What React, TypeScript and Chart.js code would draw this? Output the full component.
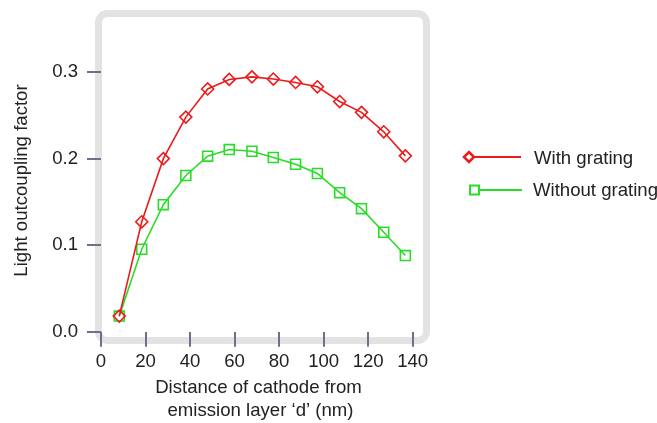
import React, { useEffect, useRef } from 'react';
import { Chart, registerables } from 'chart.js';

Chart.register(...registerables);

const DISTANCE_NM = [8.2, 18.3, 28, 38.1, 47.9, 57.6, 67.8, 77.4, 87.4, 97.2, 107.2, 117, 127, 136.7];
const WITH_GRATING = [0.018, 0.127, 0.2, 0.248, 0.2805, 0.2915, 0.2945, 0.292, 0.288, 0.283, 0.266, 0.2535, 0.231, 0.2032];
const WITHOUT_GRATING = [0.018, 0.0953, 0.1468, 0.1805, 0.2028, 0.2105, 0.2085, 0.2013, 0.1935, 0.1828, 0.1606, 0.1422, 0.1149, 0.088];
const X_TICKS = [0, 20, 40, 60, 80, 100, 120, 140];
const Y_TICKS = [0, 0.1, 0.2, 0.3];
const SERIES_NAMES = ['With grating', 'Without grating'];
const X_TITLE = ['Distance of cathode from', 'emission layer \u2018d\u2019 (nm)'];
const Y_TITLE = 'Light outcoupling factor';

const RED = '#ee1a1a';
const GREEN = '#28dc28';
const FONT = '"Liberation Sans", Arial, sans-serif';
const FS = 18.6;
const TEXT = '#222222';
const TICK_COLOR = '#70708a';

const decor = {
  id: 'decor',
  beforeDraw(chart: any) {
    const ctx = chart.ctx;
    ctx.save();
    ctx.fillStyle = '#ffffff';
    ctx.fillRect(0, 0, chart.width, chart.height);
    ctx.strokeStyle = '#e3e3e3';
    ctx.lineWidth = 7;
    ctx.beginPath();
    (ctx as any).roundRect(98.5, 13.5, 328, 327, 9);
    ctx.stroke();
    ctx.restore();
  },
  afterDraw(chart: any) {
    const ctx = chart.ctx;
    ctx.save();
    ctx.fillStyle = TEXT;
    ctx.font = `${FS}px ${FONT}`;
    ctx.textAlign = 'center';
    ctx.textBaseline = 'middle';
    ctx.fillText(X_TITLE[0], 258.5, 388);
    ctx.fillText(X_TITLE[1], 260.5, 411);
    ctx.save();
    ctx.translate(22, 180.5);
    ctx.rotate(-Math.PI / 2);
    ctx.fillText(Y_TITLE, 0, 0);
    ctx.restore();

    const ds = chart.data.datasets;
    ctx.lineWidth = 2;
    ctx.strokeStyle = ds[0].borderColor;
    ctx.beginPath();
    ctx.moveTo(465, 157);
    ctx.lineTo(521, 157);
    ctx.stroke();
    ctx.fillStyle = '#ffffff';
    ctx.beginPath();
    ctx.moveTo(469 - 5, 157);
    ctx.lineTo(469, 157 - 5);
    ctx.lineTo(469 + 5, 157);
    ctx.lineTo(469, 157 + 5);
    ctx.closePath();
    ctx.fill();
    ctx.lineWidth = 2.5;
    ctx.stroke();
    ctx.lineWidth = 2;
    ctx.strokeStyle = ds[1].borderColor;
    ctx.beginPath();
    ctx.moveTo(471, 190);
    ctx.lineTo(522, 190);
    ctx.stroke();
    ctx.fillStyle = '#ffffff';
    ctx.beginPath();
    ctx.rect(470, 185.5, 9, 9);
    ctx.fill();
    ctx.stroke();

    ctx.fillStyle = TEXT;
    ctx.textAlign = 'left';
    ctx.fillText(ds[0].label, 534, 158.5);
    ctx.fillText(ds[1].label, 533, 190.5);
    ctx.restore();
  },
};

export default function App() {
  const ref = useRef<HTMLCanvasElement | null>(null);
  useEffect(() => {
    if (!ref.current) return;
    const mk = (vals: number[]) => DISTANCE_NM.map((x, i) => ({ x, y: vals[i] }));
    const chart = new Chart(ref.current, {
      type: 'line',
      data: {
        datasets: [
          {
            label: SERIES_NAMES[0],
            data: mk(WITH_GRATING),
            borderColor: RED,
            backgroundColor: 'rgba(0,0,0,0)',
            borderWidth: 1.6,
            pointStyle: 'rectRot',
            pointRadius: 6,
            pointBorderWidth: 1.6,
            pointBackgroundColor: 'rgba(0,0,0,0)',
            pointBorderColor: RED,
            tension: 0,
          },
          {
            label: SERIES_NAMES[1],
            data: mk(WITHOUT_GRATING),
            borderColor: GREEN,
            backgroundColor: 'rgba(0,0,0,0)',
            borderWidth: 1.6,
            pointStyle: 'rect',
            pointRadius: 7,
            pointBorderWidth: 1.6,
            pointBackgroundColor: 'rgba(0,0,0,0)',
            pointBorderColor: GREEN,
            tension: 0,
          },
        ],
      },
      options: {
        responsive: false,
        animation: false,
        devicePixelRatio: 1,
        layout: { padding: { left: 0, right: 244.3, top: 19.2, bottom: 0 } },
        plugins: { legend: { display: false }, tooltip: { enabled: false } },
        scales: {
          x: {
            type: 'linear',
            min: 0,
            max: 140,
            afterBuildTicks: (s: any) => {
              s.ticks = X_TICKS.map((v) => ({ value: v }));
            },
            afterFit: (s: any) => {
              s.height = 91.3;
            },
            ticks: { font: { family: FONT, size: FS }, color: TEXT, padding: 4, maxRotation: 0 },
            grid: { drawOnChartArea: false, drawTicks: true, tickLength: 15, color: TICK_COLOR, lineWidth: 2 },
            border: { display: false },
          },
          y: {
            type: 'linear',
            min: 0,
            max: 0.36,
            afterBuildTicks: (s: any) => {
              s.ticks = Y_TICKS.map((v) => ({ value: v }));
            },
            afterFit: (s: any) => {
              s.width = 101;
            },
            ticks: {
              font: { family: FONT, size: FS },
              color: TEXT,
              padding: 9,
              callback: (v: any) => Number(v).toFixed(1),
            },
            grid: { drawOnChartArea: false, drawTicks: true, tickLength: 14, color: TICK_COLOR, lineWidth: 2 },
            border: { display: false },
          },
        },
      },
      plugins: [decor],
    });
    return () => chart.destroy();
  }, []);
  return (
    <div style={{ position: 'fixed', left: 0, top: 0, width: 657, height: 423, background: '#fff' }}>
      <canvas ref={ref} width={657} height={423} style={{ display: 'block', width: 657, height: 423 }} />
    </div>
  );
}
